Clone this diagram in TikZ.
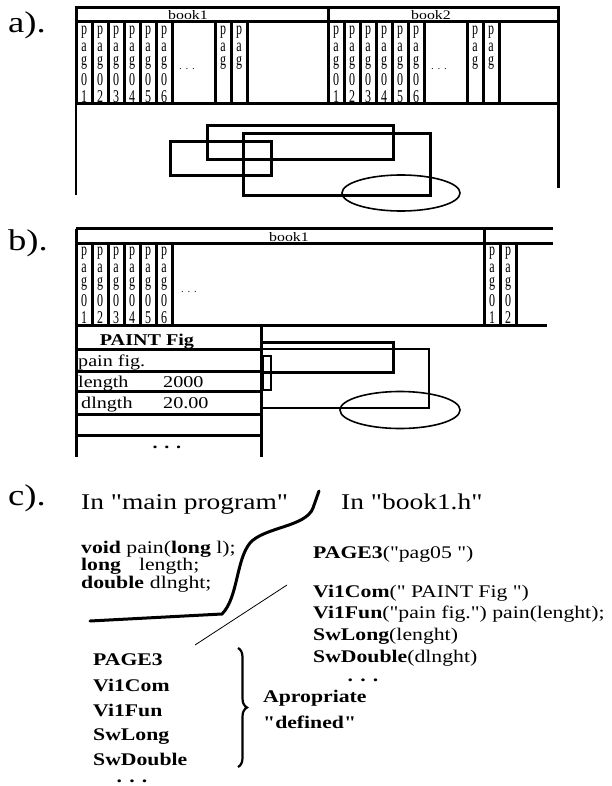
\documentclass[tikz,border=0pt]{standalone}
\usepackage{fontspec}
\setmainfont[FakeStretch=1.22,Ligatures=TeXOff]{Liberation Serif}
\newfontfamily\stripfont{Liberation Serif}
\usetikzlibrary{decorations.pathreplacing}

% one column of letters in a page strip
\newcommand\pg[1]{\scalebox{1}[1.5]{\shortstack{#1}}}
\tikzset{
    heavy/.style={line width=3pt},
    light/.style={line width=1.6pt},
    hair/.style={line width=0.8pt},
    partlabel/.style={anchor=base west, inner sep=0pt, font=\fontsize{30}{30}\selectfont},
    booktitle/.style={anchor=base, inner sep=0pt, font=\fontsize{13}{13}\selectfont},
    strip text/.style={anchor=north, inner sep=0pt, font=\stripfont\fontsize{12}{12}\selectfont},
    stripdots/.style={anchor=base, inner sep=0pt, font=\fontsize{9}{9}\selectfont},
    cell/.style={anchor=base west, inner sep=0pt, font=\fontsize{16.5}{17}\selectfont},
    head/.style={anchor=base west, inner sep=0pt, font=\fontsize{22.5}{23}\selectfont},
    code/.style={anchor=base west, inner sep=0pt, font=\fontsize{17.8}{18}\selectfont},
}

\begin{document}
\begin{tikzpicture}[x=1pt,y=-1pt]
    \useasboundingbox (0,0) rectangle (611,786);

    % a). two books with their pages
    \node[partlabel] (la) at (8,33) {a).};
    \draw[heavy] (76,8) rectangle (558,22);
    \draw[heavy] (328,8) -- (328,22);
    \node[booktitle] (a-book1) at (188,20) {book1};
    \node[booktitle] (a-book2) at (431,20) {book2};
    \draw[heavy] (76,22) -- (76,104) -- (558,104) -- (558,22);
    \draw[light] (76,104) -- (76,195);
    \draw[heavy] (558,104) -- (558,188);
    \foreach \bx/\bk in {76/1,328/2} {
        \foreach \i in {1,...,6} {
            \draw[heavy] ({\bx+(\i-1)*16},22) rectangle ++(16,82);
            \node[strip text] (a\bk-\i) at ({\bx+(\i-1)*16+8},26) {\pg{p\\a\\g\\0\\\i}};
        }
        \draw[heavy] ({\bx+96},22) rectangle ({\bx+139},104);
        \node[stripdots] (a\bk-dots) at ({\bx+111},70) {. . .};
        \foreach \i in {7,8} {
            \draw[heavy] ({\bx+139+(\i-7)*16},22) rectangle ++(16,82);
            \node[strip text] (a\bk-\i) at ({\bx+147+(\i-7)*16},26) {\pg{p\\a\\g}};
        }
    }
    \draw[heavy] (207,126) rectangle (393,160);
    \draw[heavy] (170,142) rectangle (271,176);
    \draw[heavy] (243,134) rectangle (430,196);
    \draw[light] (401,193) ellipse [x radius=59, y radius=18];

    % b). one book and the PAINT Fig page
    \node[partlabel] (lb) at (8,250) {b).};
    \draw[heavy] (76,229) -- (553,229);
    \draw[heavy] (76,243) -- (553,243);
    \draw[heavy] (484,229) -- (484,243);
    \draw[heavy] (76,229) -- (76,457);
    \node[booktitle] (b-book1) at (289,241) {book1};
    \foreach \i in {1,...,6} {
        \draw[heavy] ({76+(\i-1)*16},243) rectangle ++(16,82);
        \node[strip text] (b1-\i) at ({84+(\i-1)*16},247) {\pg{p\\a\\g\\0\\\i}};
    }
    \node[stripdots] (b1-dots) at (189,292) {. . .};
    \foreach \i in {1,2} {
        \draw[heavy] ({484+(\i-1)*16},243) rectangle ++(16,82);
        \node[strip text] (b2-\i) at ({492+(\i-1)*16},247) {\pg{p\\a\\g\\0\\\i}};
    }
    \draw[heavy] (76,325) -- (547,325);
    \draw[heavy] (261,325) -- (261,457);
    \foreach \y in {349,371,391,414,435}
        \draw[heavy] (76,\y) -- (261,\y);
    \node[cell, anchor=base] (t-head) at (147,345) {\textbf{PAINT Fig}};
    \node[cell] (t-pain) at (78,366) {pain fig.};
    \node[cell] (t-len) at (78,387) {length};
    \node[cell] (t-lenv) at (163,387) {2000};
    \node[cell] (t-dl) at (81,408) {dlngth};
    \node[cell] (t-dlv) at (163,408) {20.00};
    \node[cell, anchor=base] (t-dots) at (167,448) {\textbf{. . .}};
    \draw[heavy] (261,342) rectangle (393,372);
    \draw[light] (261,349) -- (429,349) -- (429,408) -- (261,408);
    \draw[light] (263,356) rectangle (271,390);
    \draw[light] (400,410) ellipse [x radius=60, y radius=18.5];

    % c). source code
    \node[partlabel] (lc) at (8,505) {c).};
    \node[head] (main) at (81,509) {In "main program"};
    \node[head] (hdr) at (341,509) {In "book1.h"};
    \node[code] (decl1) at (81,553) {\textbf{void} pain(\textbf{long} l);};
    \node[code] (decl2) at (81,570) {\textbf{long}\hspace{18pt}length;};
    \node[code] (decl3) at (81,588) {\textbf{double}\hspace{6pt}dlnght;};
    \node[code] (r1) at (313,558) {\textbf{PAGE3}("pag05 ")};
    \node[code] (r2) at (313,597) {\textbf{Vi1Com}(" PAINT Fig ")};
    \node[code] (r3) at (313,618) {\textbf{Vi1Fun}("pain fig.") pain(lenght);};
    \node[code] (r4) at (313,640) {\textbf{SwLong}(lenght)};
    \node[code] (r5) at (313,662) {\textbf{SwDouble}(dlnght)};
    \node[code, anchor=base] (r6) at (363,681) {\textbf{. . .}};
    \node[code] (m1) at (93,665) {\textbf{PAGE3}};
    \node[code] (m2) at (93,691) {\textbf{Vi1Com}};
    \node[code] (m3) at (93,716) {\textbf{Vi1Fun}};
    \node[code] (m4) at (93,740) {\textbf{SwLong}};
    \node[code] (m5) at (93,765) {\textbf{SwDouble}};
    \node[code, anchor=base] (m6) at (132,782) {\textbf{. . .}};
    \draw[line width=2.2pt, decorate, decoration={brace, amplitude=9pt}] (238,648) -- (238,767);
    \node[code] (apr) at (263,702) {\textbf{Apropriate}};
    \node[code] (def) at (263,728) {\textbf{"defined"}};
    \draw[heavy, line cap=round] (90,621) -- (222,614)
        .. controls (238,598) and (236,560) .. (250,543)
        .. controls (264,527) and (306,527) .. (313,508) -- (319,491);
    \draw[hair] (195,645) -- (287,585);
\end{tikzpicture}
\end{document}
